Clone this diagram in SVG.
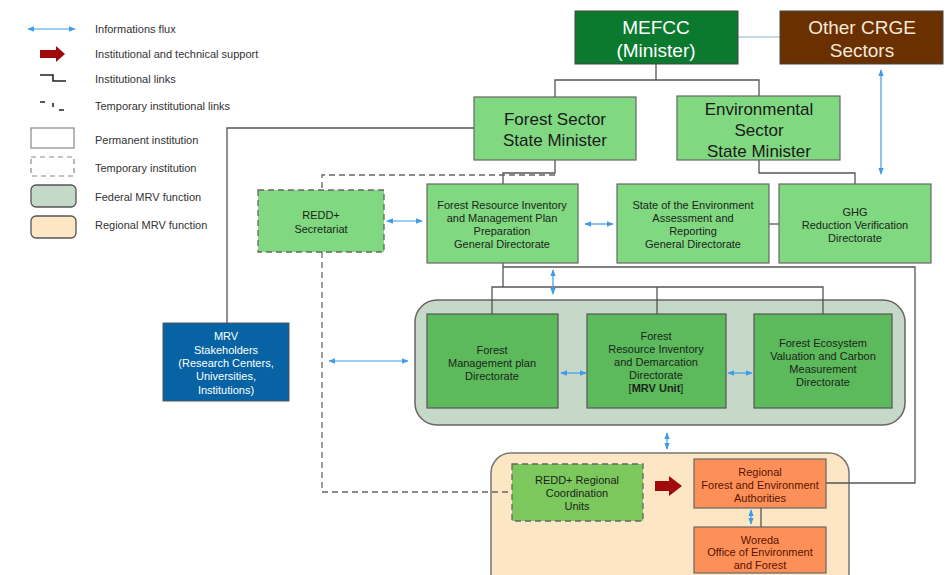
<svg xmlns="http://www.w3.org/2000/svg" width="948" height="575" viewBox="0 0 948 575">
<defs>
<marker id="ah" viewBox="0 0 10 10" refX="9" refY="5" markerWidth="5.5" markerHeight="5.5" orient="auto-start-reverse"><path d="M0,1 L10,5 L0,9 z" fill="#3d9be9"/></marker>
<style>
text{font-family:"Liberation Sans",Arial,sans-serif;text-anchor:middle;}
.lg{font-size:11px;fill:#333333;text-anchor:start;}
.t11{font-size:11px;fill:#1a261a;}
.tw{font-size:11px;fill:#ffffff;}
.tr{font-size:11px;fill:#5a1200;}
.big{font-size:19px;fill:#ffffff;}
.mid{font-size:17px;fill:#1a1a1a;}
.ln{fill:none;stroke:#555;stroke-width:1.3;}
.dl{fill:none;stroke:#666;stroke-width:1.3;stroke-dasharray:6,4;}
.fx{fill:none;stroke:#3d9be9;stroke-width:1.2;marker-start:url(#ah);marker-end:url(#ah);}
.lgt{fill:#80d880;stroke:#666;stroke-width:1.2;}
.lgtd{fill:#80d880;stroke:#666;stroke-width:1.3;stroke-dasharray:6,4;}
.mg{fill:#5cba5c;stroke:#555;stroke-width:1.2;}
.or{fill:#fc9058;stroke:#666;stroke-width:1.2;}
</style>
</defs>
<rect width="948" height="575" fill="#ffffff"/>

<g id="legend">
<line x1="28" y1="29" x2="75" y2="29" class="fx"/>
<text class="lg" x="95" y="33">Informations flux</text>
<path d="M40,50 L56,50 L56,46 L65,54 L56,62 L56,58 L40,58 z" fill="#a00a0a"/>
<text class="lg" x="95" y="58">Institutional and technical  support</text>
<path d="M40,75 L53,75 L53,81 L66,81" fill="none" stroke="#222" stroke-width="1.6"/>
<text class="lg" x="95" y="83">Institutional links</text>
<path d="M40,102 L45,102 M53,103 L53,107 M59,110 L64,110" fill="none" stroke="#222" stroke-width="1.6"/>
<text class="lg" x="95" y="110">Temporary institutional links</text>
<rect x="31" y="128" width="43" height="20" fill="#fff" stroke="#888" stroke-width="1.2"/>
<text class="lg" x="95" y="144">Permanent institution</text>
<rect x="31" y="157" width="43" height="19" fill="#fff" stroke="#888" stroke-width="1.2" stroke-dasharray="5,4"/>
<text class="lg" x="95" y="172">Temporary institution</text>
<rect x="31" y="185" width="45" height="22" rx="5" fill="#c5d9c8" stroke="#555" stroke-width="1.3"/>
<text class="lg" x="95" y="201">Federal MRV function</text>
<rect x="31" y="216" width="45" height="22" rx="5" fill="#fde6c4" stroke="#555" stroke-width="1.3"/>
<text class="lg" x="95" y="229">Regional MRV function</text>
</g>

<g id="containers">
<rect id="federal" x="415" y="300" width="490" height="125" rx="22" fill="#c6d8c8" stroke="#666" stroke-width="1.5"/>
<rect id="regional" x="491" y="453" width="358" height="140" rx="20" fill="#fde6c4" stroke="#777" stroke-width="1.5"/>
</g>

<g id="connectors">
<line x1="738" y1="37" x2="780" y2="37" stroke="#8fb0c8" stroke-width="1.2"/>
<path d="M656,64 L656,80 M555,97 L555,80 L759,80 L759,96" class="ln"/>
<path d="M474,128 L227,128 L227,323" class="ln"/>
<path d="M555,160 L555,173 L503,173 L503,184" class="ln"/>
<path d="M759,160 L759,173 L855,173 L855,184" class="ln"/>
<path d="M555,175 L322,175 L322,190" class="dl"/>
<path d="M322,252 L322,492 L512,492" class="dl"/>
<line x1="769" y1="224" x2="779" y2="224" class="ln"/>
<path d="M503,263 L503,287 M492,314 L492,287 L823,287 L823,314 M657,287 L657,314" class="ln"/>
<path d="M503,267 L915,267 L915,483 L826,483" class="ln"/>
<line x1="761" y1="508" x2="761" y2="527" class="ln"/>
<line x1="881" y1="70" x2="881" y2="174" class="fx"/>
<line x1="387" y1="221" x2="422" y2="221" class="fx"/>
<line x1="585" y1="224" x2="613" y2="224" class="fx"/>
<line x1="553" y1="270" x2="553" y2="294" class="fx"/>
<line x1="329" y1="361" x2="408" y2="361" class="fx"/>
<line x1="561" y1="373" x2="586" y2="373" class="fx"/>
<line x1="728" y1="373" x2="752" y2="373" class="fx"/>
<line x1="667" y1="433" x2="667" y2="449" class="fx"/>
<line x1="751" y1="510" x2="751" y2="524" class="fx"/>
<path d="M655,481 L669,481 L669,476 L682,486 L669,496 L669,491 L655,491 z" fill="#a00a0a"/>
</g>

<g id="mefcc">
<rect x="575" y="11" width="163" height="53" fill="#0b7a2e" stroke="#444" stroke-width="1"/>
<text class="big" x="656" y="34">MEFCC</text>
<text class="big" x="656" y="57">(Minister)</text>
</g>
<g id="crge">
<rect x="780" y="11" width="163" height="53" fill="#6b3000" stroke="#444" stroke-width="1"/>
<text class="big" x="862" y="34" style="fill:#f4e8dc">Other CRGE</text>
<text class="big" x="862" y="57" style="fill:#f4e8dc">Sectors</text>
</g>
<g id="forest-sector">
<rect x="474" y="97" width="162" height="63" class="lgt"/>
<text class="mid" x="555" y="125">Forest Sector</text>
<text class="mid" x="555" y="146">State Minister</text>
</g>
<g id="env-sector">
<rect x="677" y="96" width="163" height="64" class="lgt"/>
<text class="mid" x="759" y="115">Environmental</text>
<text class="mid" x="759" y="136">Sector</text>
<text class="mid" x="759" y="157">State Minister</text>
</g>
<g id="redd-secretariat">
<rect x="258" y="190" width="126" height="62" class="lgtd"/>
<text class="t11" x="321" y="219">REDD+</text>
<text class="t11" x="321" y="233">Secretariat</text>
</g>
<g id="fri-gd">
<rect x="427" y="184" width="151" height="79" class="lgt"/>
<text class="t11" x="502" y="209">Forest Resource Inventory</text>
<text class="t11" x="502" y="222">and Management Plan</text>
<text class="t11" x="502" y="235">Preparation</text>
<text class="t11" x="502" y="248">General Directorate</text>
</g>
<g id="soe-gd">
<rect x="617" y="184" width="152" height="79" class="lgt"/>
<text class="t11" x="693" y="209">State of the Environment</text>
<text class="t11" x="693" y="222">Assessment and</text>
<text class="t11" x="693" y="235">Reporting</text>
<text class="t11" x="693" y="248">General Directorate</text>
</g>
<g id="ghg">
<rect x="779" y="184" width="152" height="79" class="lgt"/>
<text class="t11" x="855" y="216">GHG</text>
<text class="t11" x="855" y="229">Reduction Verification</text>
<text class="t11" x="855" y="242">Directorate</text>
</g>
<g id="mrv-stakeholders">
<rect x="163" y="323" width="126" height="78" fill="#0763a3" stroke="#555" stroke-width="1"/>
<text class="tw" x="226" y="340">MRV</text>
<text class="tw" x="226" y="354">Stakeholders</text>
<text class="tw" x="226" y="367">(Research Centers,</text>
<text class="tw" x="226" y="380">Universities,</text>
<text class="tw" x="226" y="394">Institutions)</text>
</g>
<g id="fmp-directorate">
<rect x="427" y="314" width="131" height="94" class="mg"/>
<text class="t11" x="492" y="354">Forest</text>
<text class="t11" x="492" y="367">Management plan</text>
<text class="t11" x="492" y="380">Directorate</text>
</g>
<g id="frid-directorate">
<rect x="587" y="314" width="139" height="94" class="mg"/>
<text class="t11" x="656" y="340">Forest</text>
<text class="t11" x="656" y="353">Resource Inventory</text>
<text class="t11" x="656" y="366">and Demarcation</text>
<text class="t11" x="656" y="379">Directorate</text>
<text class="t11" x="656" y="392">[<tspan font-weight="bold">MRV Unit</tspan>]</text>
</g>
<g id="fev-directorate">
<rect x="754" y="314" width="138" height="94" class="mg"/>
<text class="t11" x="823" y="347">Forest Ecosystem</text>
<text class="t11" x="823" y="360">Valuation and Carbon</text>
<text class="t11" x="823" y="373">Measurement</text>
<text class="t11" x="823" y="386">Directorate</text>
</g>
<g id="redd-regional">
<rect x="512" y="464" width="131" height="57" fill="#7cc85c" stroke="#666" stroke-width="1.3" stroke-dasharray="6,4"/>
<text class="t11" x="577" y="484">REDD+ Regional</text>
<text class="t11" x="577" y="497">Coordination</text>
<text class="t11" x="577" y="510">Units</text>
</g>
<g id="regional-authorities">
<rect x="694" y="459" width="132" height="49" class="or"/>
<text class="tr" x="760" y="476">Regional</text>
<text class="tr" x="760" y="489">Forest and Environment</text>
<text class="tr" x="760" y="502">Authorities</text>
</g>
<g id="woreda">
<rect x="694" y="527" width="132" height="46" class="or"/>
<text class="tr" x="760" y="544">Woreda</text>
<text class="tr" x="760" y="556">Office of Environment</text>
<text class="tr" x="760" y="569">and Forest</text>
</g>
</svg>
